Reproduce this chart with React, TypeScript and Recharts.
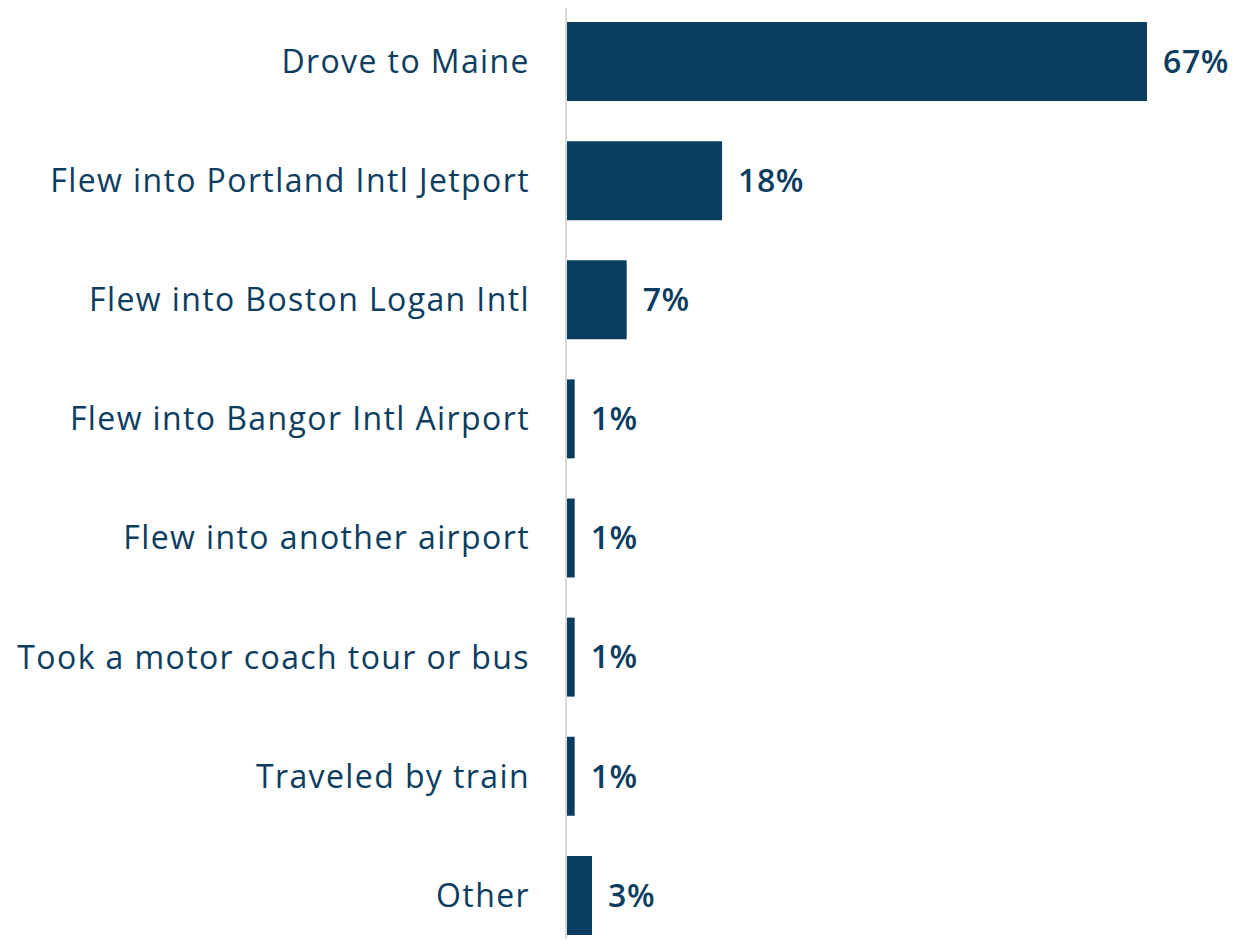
import { BarChart, Bar, XAxis, YAxis, LabelList } from "recharts"

const categories = [
  "Drove to Maine",
  "Flew into Portland Intl Jetport",
  "Flew into Boston Logan Intl",
  "Flew into Bangor Intl Airport",
  "Flew into another airport",
  "Took a motor coach tour or bus",
  "Traveled by train",
  "Other",
]

const shares = [67, 18, 7, 1, 1, 1, 1, 3]

const navy = "#0b3d61"
const font = "'Open Sans', sans-serif"

export default function App() {
  const data = categories.map((name, i) => ({ name, value: shares[i] }))

  return (
    <div style={{ margin: -8, width: 1256, height: 947, overflow: "hidden", background: "#fff" }}>
      <BarChart
        width={1256}
        height={960}
        data={data}
        layout="vertical"
        margin={{ top: 2, right: 83, bottom: 5, left: 0 }}
      >
        <XAxis type="number" domain={[0, 70]} hide />
        <YAxis
          type="category"
          dataKey="name"
          width={566}
          tickLine={false}
          tickSize={0}
          tickMargin={36}
          axisLine={{ stroke: "#d9d9d9", strokeWidth: 2 }}
          tick={{ fill: navy, fontSize: 32, fontFamily: font, letterSpacing: 1.4 }}
          interval={0}
        />
        <Bar dataKey="value" fill={navy} barSize={79} isAnimationActive={false}>
          <LabelList
            dataKey="value"
            position="right"
            offset={16}
            formatter={(v: number) => `${v}%`}
            style={{ fill: navy, fontSize: 32, fontWeight: 600, fontFamily: font, letterSpacing: 0.6 }}
          />
        </Bar>
      </BarChart>
    </div>
  )
}
